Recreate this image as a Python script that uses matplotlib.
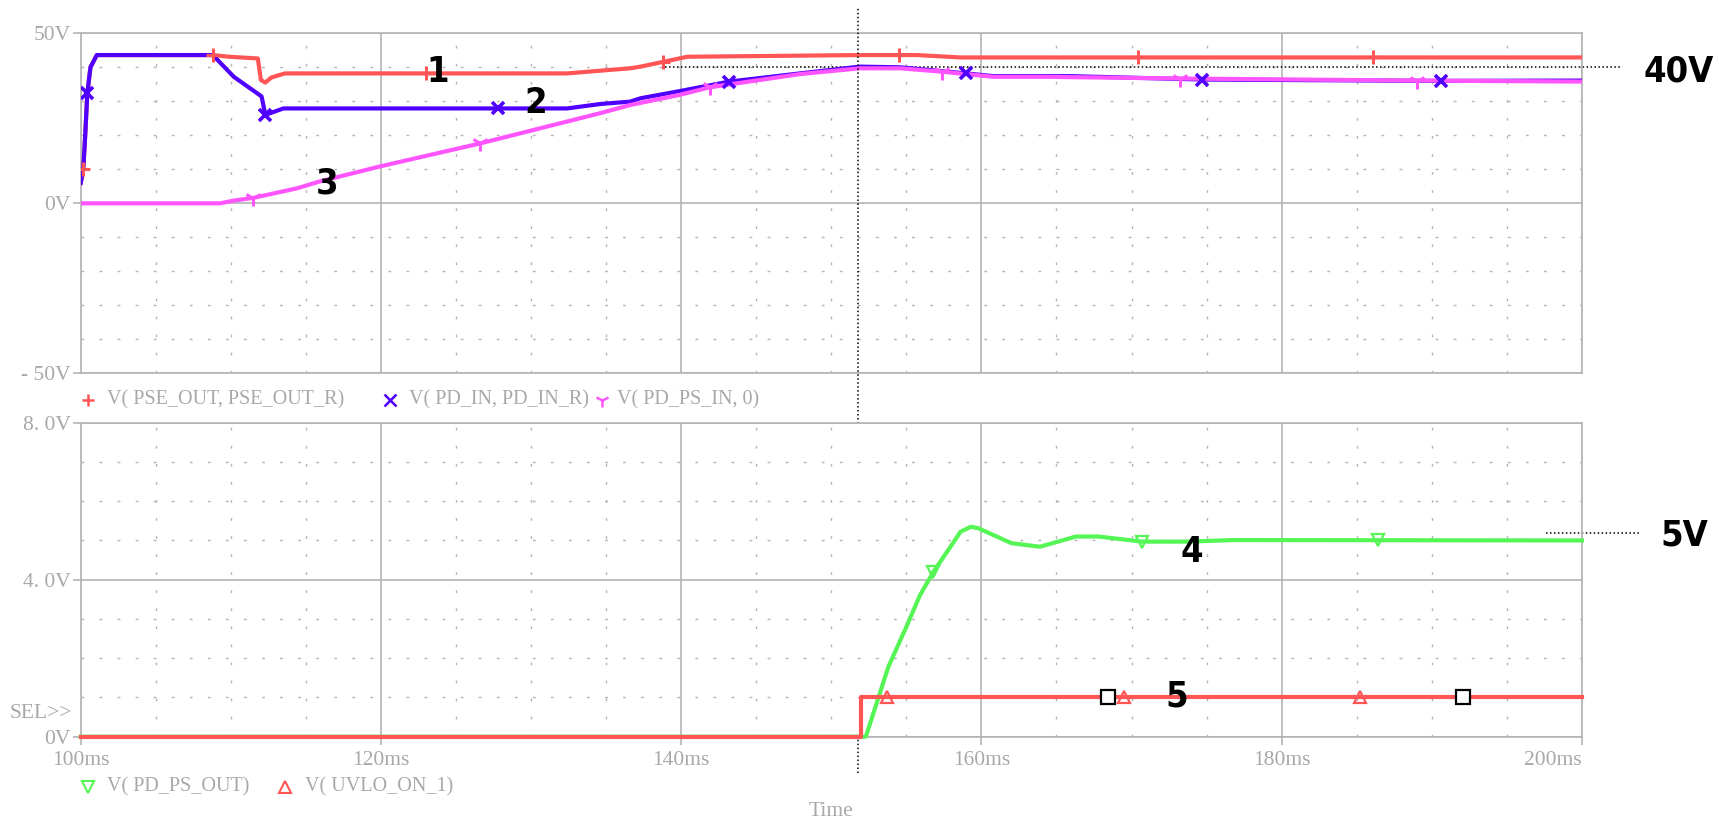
import numpy as np
import matplotlib
matplotlib.use("Agg")
import matplotlib.pyplot as plt
from matplotlib.ticker import FixedLocator
from matplotlib.lines import Line2D

# ---------------- waveform data (time in ms, voltage in V) ----------------
# upper plot
pse_t = [100.0, 100.17, 100.3, 100.44, 100.65, 101.07, 108.8, 109.9, 111.8, 112.0,
         112.3, 112.7, 113.6, 132.4, 134.6, 136.6, 137.3, 138.8, 140.4, 151.9,
         155.7, 158.6, 200.0]
pse_v = [6.0, 10.0, 20.0, 32.4, 40.0, 43.6, 43.6, 43.1, 42.6, 36.3,
         35.5, 37.0, 38.2, 38.2, 39.0, 39.7, 40.2, 41.6, 43.1, 43.6,
         43.6, 42.9, 42.9]

pdin_t = [100.0, 100.17, 100.3, 100.44, 100.65, 101.07, 108.8, 110.2, 111.9, 112.05,
          112.3, 113.5, 132.4, 134.6, 136.6, 137.3, 139.9, 143.2, 147.9, 151.9,
          154.6, 159.0, 160.8, 165.9, 174.8, 190.4, 200.0]
pdin_v = [6.0, 10.0, 20.0, 32.4, 40.0, 43.6, 43.6, 37.2, 31.9, 31.4,
          26.0, 27.9, 27.9, 29.2, 29.9, 30.9, 33.0, 35.8, 38.2, 40.2,
          40.0, 38.2, 37.4, 37.4, 36.4, 36.0, 36.1]

psin_t = [100.0, 109.3, 110.2, 111.5, 114.4, 115.9, 119.9, 126.6, 134.6, 136.6,
          139.9, 141.9, 147.9, 151.9, 154.6, 157.4, 160.8, 164.6, 165.9, 173.3,
          188.9, 200.0]
psin_v = [0.0, 0.0, 0.8, 1.6, 4.4, 6.4, 10.8, 17.6, 26.5, 28.9,
          31.9, 34.1, 38.0, 39.7, 39.7, 38.7, 37.2, 37.2, 37.1, 36.7,
          36.1, 35.8]

# lower plot
psout_t = [100.0, 152.3, 153.8, 155.0, 155.9, 156.8, 158.1, 158.6, 159.3, 159.8,
           162.0, 163.9, 166.3, 167.8, 170.7, 173.7, 176.8, 200.0]
psout_v = [0.0, 0.0, 1.78, 2.8, 3.6, 4.2, 4.93, 5.22, 5.35, 5.31,
           4.93, 4.84, 5.10, 5.10, 4.97, 4.97, 5.01, 5.0]

uvlo_t = [100.0, 152.0, 152.0, 200.0]
uvlo_v = [0.0, 0.0, 1.0, 1.0]

# trace symbol positions (ms)
pse_mk = [100.17, 108.8, 123.0, 138.8, 154.5, 170.4, 186.1]
pdin_mk = [100.44, 112.3, 127.8, 143.2, 159.0, 174.7, 190.6]
psin_mk = [111.5, 126.6, 141.9, 157.4, 173.2, 189.0]
psout_mk = [156.8, 170.7, 186.4]
uvlo_mk = [153.7, 169.5, 185.2]
cursor_mk = [168.4, 192.1]

cursor_t = 151.8
ref_hi = 40.0
ref_lo = 5.2

x_major = [100, 120, 140, 160, 180, 200]
x_labels = ["100ms", "120ms", "140ms", "160ms", "180ms", "200ms"]
x_minor = [v for v in range(105, 200, 5) if v % 20]

top_ticks = [-50, 0, 50]
top_labels = ["- 50V", "0V", "50V"]
top_minor = [-40, -30, -20, -10, 10, 20, 30, 40]
bot_ticks = [0, 4, 8]
bot_labels = ["0V", "4. 0V", "8. 0V"]
bot_minor = [1, 2, 3, 5, 6, 7]

# ---------------- style ----------------
RED = "#ff5555"
BLUE = "#5000ff"
MAG = "#ff55ff"
GREEN = "#55f555"
GRID = "#b4b4b4"
TXT = "#a8a8a8"
SERIF = ["Liberation Serif", "DejaVu Serif"]
FS = 15.5
FS_LEG = 14.5

plt.rcParams["font.family"] = SERIF

fig = plt.figure(figsize=(17.19, 8.19), dpi=100)
ax1 = fig.add_axes([0.04695, 0.54420, 0.8733, 0.41514])
ax2 = fig.add_axes([0.04695, 0.10049, 0.8733, 0.38339])


def style(ax, ylim, yt, yl, ym, show_x):
    ax.set_xlim(100, 200)
    ax.set_ylim(*ylim)
    ax.set_axisbelow(True)
    for s in ax.spines.values():
        s.set_color(GRID)
        s.set_linewidth(1.2)
    ax.xaxis.set_major_locator(FixedLocator(x_major))
    ax.xaxis.set_minor_locator(FixedLocator(x_minor))
    ax.yaxis.set_major_locator(FixedLocator(yt))
    ax.yaxis.set_minor_locator(FixedLocator(ym))
    ax.set_yticklabels(yl)
    ax.grid(which="major", color=GRID, lw=1.2, ls="-")
    ax.grid(which="minor", color=GRID, lw=1.0, ls=(0, (2, 11)))
    ax.tick_params(which="minor", length=0)
    ax.tick_params(axis="y", which="major", length=6, width=1.2, color=GRID,
                   pad=1, labelsize=FS, labelcolor=TXT)
    if show_x:
        ax.set_xticklabels(x_labels)
        ax.tick_params(axis="x", which="major", length=6, width=1.2, color=GRID,
                       pad=4, labelsize=FS, labelcolor=TXT)
        ax.get_xticklabels()[-1].set_horizontalalignment("right")
    else:
        ax.tick_params(axis="x", which="major", length=0, labelbottom=False)


style(ax1, (-50, 50), top_ticks, top_labels, top_minor, False)
style(ax2, (0, 8), bot_ticks, bot_labels, bot_minor, True)

LW = 3.0

# upper traces
ax1.plot(pse_t, pse_v, color=RED, lw=LW, solid_joinstyle="round", zorder=3)
ax1.plot(pdin_t, pdin_v, color=BLUE, lw=LW, solid_joinstyle="round", zorder=4)
ax1.plot(psin_t, psin_v, color=MAG, lw=LW, solid_joinstyle="round", zorder=5)
ax1.plot(pse_mk, np.interp(pse_mk, pse_t, pse_v), ls="none", marker="+",
         ms=10, mew=2.2, color=RED, zorder=6)
ax1.plot(pdin_mk, np.interp(pdin_mk, pdin_t, pdin_v), ls="none", marker="x",
         ms=9, mew=2.6, color=BLUE, zorder=6)
ax1.plot(psin_mk, np.interp(psin_mk, psin_t, psin_v), ls="none", marker="1",
         ms=12, mew=2.2, color=MAG, zorder=7)

# lower traces
ax2.plot(psout_t, psout_v, color=GREEN, lw=LW, solid_joinstyle="round",
         zorder=3, clip_on=False)
ax2.plot(uvlo_t, uvlo_v, color=RED, lw=LW, zorder=4, clip_on=False)
ax2.plot(psout_mk, np.interp(psout_mk, psout_t, psout_v), ls="none", marker="v",
         ms=8, mew=1.6, mfc="none", color=GREEN, zorder=6)
ax2.plot(uvlo_mk, [uvlo_v[-1]] * len(uvlo_mk), ls="none", marker="^",
         ms=8, mew=1.6, mfc="none", color=RED, zorder=6)
ax2.plot(cursor_mk, [uvlo_v[-1]] * len(cursor_mk), ls="none", marker="s",
         ms=10, mew=1.6, mfc="white", mec="black", zorder=7)

# cursor and reference levels
ax1.axvline(cursor_t, ymin=-1.1756, ymax=1.0774, color="black", lw=1.1,
            ls=(0, (1, 1.6)), clip_on=False, zorder=8)
ax1.hlines(ref_hi, 138.9, 202.7, colors="black", lw=1.1, linestyles=(0, (1, 1.6)),
           clip_on=False, zorder=2)
ax2.hlines(ref_lo, 197.6, 203.85, colors="black", lw=1.1, linestyles=(0, (1, 1.6)),
           clip_on=False, zorder=2)

# annotations
big = dict(family="DejaVu Sans", fontstretch="condensed", fontweight="bold",
           fontsize=26, color="black", ha="center", va="baseline",
           clip_on=False, zorder=9)
ax1.text(123.8, 35.7, "1", **big)
ax1.text(130.3, 26.5, "2", **big)
ax1.text(116.4, 2.9, "3", **big)
ax1.text(206.45, 35.7, "40V", **big)
ax2.text(174.0, 4.46, "4", **big)
ax2.text(173.0, 0.78, "5", **big)
ax2.text(206.8, 4.86, "5V", **big)


# trace legends under each plot
def legend_item(xm, y, marker, color, label, xt, **mk):
    fig.add_artist(Line2D([xm / 1719], [y], transform=fig.transFigure, ls="none",
                          marker=marker, color=color, **mk))
    fig.text(xt / 1719, y, label, color=TXT, fontsize=FS_LEG, ha="left",
             va="center")


yl1 = 1 - 400 / 819
legend_item(88, yl1, "+", RED, "V( PSE_OUT, PSE_OUT_R)", 107, ms=9, mew=1.8)
legend_item(390, yl1, "x", BLUE, "V( PD_IN, PD_IN_R)", 409, ms=8, mew=1.8)
legend_item(602, yl1, "1", MAG, "V( PD_PS_IN, 0)", 617, ms=10, mew=1.8)

yl2 = 1 - 787 / 819
legend_item(88, yl2, "v", GREEN, "V( PD_PS_OUT)", 107, ms=8, mew=1.5, mfc="none")
legend_item(285, yl2, "^", RED, "V( UVLO_ON_1)", 305, ms=8, mew=1.5, mfc="none")

fig.text(72 / 1719, 1 - 713 / 819, "SEL>>", color=TXT, fontsize=FS,
         ha="right", va="center")
fig.text(831 / 1719, 1 - 812 / 819, "Time", color=TXT, fontsize=FS,
         ha="center", va="center")

fig.savefig("out.png", dpi=100)
